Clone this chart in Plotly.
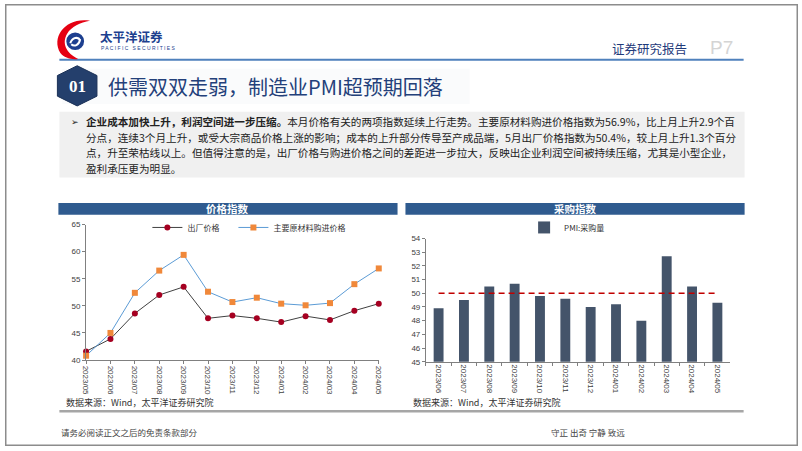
import plotly.graph_objects as go

W, H = 802, 451

# ---------------- data ----------------
price_months = ["2023/05", "2023/06", "2023/07", "2023/08", "2023/09", "2023/10", "2023/11",
                "2023/12", "2024/01", "2024/02", "2024/03", "2024/04", "2024/05"]
output_price = [41.6, 43.9, 48.6, 52.0, 53.5, 47.7, 48.2, 47.7, 47.0, 48.1, 47.4, 49.1, 50.4]
input_price = [40.8, 45.0, 52.4, 56.5, 59.4, 52.6, 50.7, 51.5, 50.4, 50.1, 50.5, 54.0, 56.9]

purchase_months = ["2023/06", "2023/07", "2023/08", "2023/09", "2023/10", "2023/11",
                   "2023/12", "2024/01", "2024/02", "2024/03", "2024/04", "2024/05"]
purchase_qty = [48.9, 49.5, 50.5, 50.7, 49.8, 49.6, 49.0, 49.2, 48.0, 52.7, 50.5, 49.3]
threshold_line = [50] * len(purchase_months)

left_yticks = [40, 45, 50, 55, 60, 65]
right_yticks = [45, 46, 47, 48, 49, 50, 51, 52, 53, 54]

# ---------------- helpers ----------------
def px(x):
    return x / W

def py(y):
    return 1 - y / H

def path(points, close=True):
    s = "M " + " L ".join(f"{px(x):.5f},{py(y):.5f}" for x, y in points)
    return s + (" Z" if close else "")

CJK = "Noto Sans CJK SC"
NUM = "Liberation Sans"
BAR_BLUE = "#2f5b8f"

fig = go.Figure()

# ---------------- left chart: price indices ----------------
fig.add_trace(go.Scatter(
    x=price_months, y=output_price, name="出厂价格", mode="lines+markers",
    line=dict(color="#404040", width=1),
    marker=dict(symbol="circle", size=6, color="#a50021"),
    cliponaxis=False, xaxis="x", yaxis="y", legend="legend"))
fig.add_trace(go.Scatter(
    x=price_months, y=input_price, name="主要原材料购进价格", mode="lines+markers",
    line=dict(color="#5b9bd5", width=1),
    marker=dict(symbol="square", size=6, color="#f0883a"),
    cliponaxis=False, xaxis="x", yaxis="y", legend="legend3"))

# ---------------- right chart: purchase index ----------------
fig.add_trace(go.Bar(
    x=purchase_months, y=purchase_qty, name="PMI:采购量",
    marker=dict(color="#44546a", line=dict(width=0)),
    xaxis="x2", yaxis="y2", legend="legend2"))
fig.add_trace(go.Scatter(
    x=purchase_months, y=threshold_line, mode="lines", showlegend=False,
    line=dict(color="#c00000", width=1.5, dash="6px,4px"),
    xaxis="x2", yaxis="y2", hoverinfo="skip"))

tickfont = dict(family=NUM, size=8, color="#404040")
axis_common = dict(showline=True, linecolor="#808080", linewidth=1, ticks="outside",
                   ticklen=3, tickcolor="#808080", showgrid=False, zeroline=False,
                   tickfont=tickfont)
legend_common = dict(orientation="h", xanchor="left", yanchor="middle",
                     font=dict(family=CJK, size=8, color="#333333"),
                     bgcolor="rgba(0,0,0,0)", itemwidth=30)

fig.update_layout(
    width=W, height=H, margin=dict(l=0, r=0, t=0, b=0), autosize=False,
    paper_bgcolor="white", plot_bgcolor="rgba(0,0,0,0)",
    bargap=0.61,
    xaxis=dict(domain=[px(82), px(378)], type="category", range=[0, 12],
               tickangle=90, anchor="y", **axis_common),
    yaxis=dict(domain=[py(363.3), py(225)], range=[40, 65], tickvals=left_yticks,
               anchor="x", **axis_common),
    xaxis2=dict(domain=[px(425.7), px(733.3)], type="category", range=[-0.5, 11.5],
                tickangle=90, tickson="boundaries", anchor="y2", **axis_common),
    yaxis2=dict(domain=[py(365), py(239.3)], range=[45, 54], tickvals=right_yticks,
                anchor="x2", **axis_common),
    legend=dict(x=px(144), y=py(228), **legend_common),
    legend3=dict(x=px(231), y=py(228), **legend_common),
    legend2=dict(x=px(525), y=py(228), **legend_common),
    showlegend=True,
)

shapes = []
ann = []

def text(x, y, s, size, color, family=CJK, xanchor="left"):
    ann.append(dict(xref="paper", yref="paper", x=px(x), y=py(y), text=s, showarrow=False,
                    xanchor=xanchor, yanchor="middle",
                    font=dict(family=family, size=size, color=color)))

# outer frame
shapes.append(dict(type="rect", xref="paper", yref="paper", x0=px(0.75), x1=px(801.25), y0=py(450.25), y1=py(0.75),
                   line=dict(color="#8c8c8c", width=1.5), fillcolor="rgba(0,0,0,0)", layer="above"))

# header line
shapes.append(dict(type="line", xref="paper", yref="paper", x0=px(55), x1=px(747), y0=py(57), y1=py(57),
                   line=dict(color="#4f81bd", width=2)))

# logo: red crescent + blue disc
crescent = ("M {0},{1} C {2},{3} {4},{5} {6},{7} C {8},{9} {10},{11} {12},{13} "
            "C {14},{15} {16},{17} {18},{19} C {20},{21} {22},{23} {0},{1} Z")
pts = [(86, 17), (62, 13), (46, 33), (56, 50), (60, 55), (67, 57), (74, 56),
       (62, 50), (57, 40), (63, 30), (67, 23), (76, 19)]
vals = []
for x, y in pts:
    vals += [f"{px(x):.5f}", f"{py(y):.5f}"]
shapes.append(dict(type="path", xref="paper", yref="paper", path=crescent.format(*vals),
                   fillcolor="#e50012", line=dict(width=0)))
shapes.append(dict(type="circle", xref="paper", yref="paper", x0=px(62), x1=px(80), y0=py(47), y1=py(29),
                   fillcolor="#1d3f8f", line=dict(width=0)))
swirl = [(66, 40), (68, 34), (74, 33), (76, 37)]
sw = "M {} C {} {} {}".format(*[f"{px(x):.5f},{py(y):.5f}" for x, y in swirl])
shapes.append(dict(type="path", xref="paper", yref="paper", path=sw,
                   line=dict(color="white", width=2)))
swirl2 = [(76, 36), (75, 42), (70, 44), (67, 41)]
sw2 = "M {} C {} {} {}".format(*[f"{px(x):.5f},{py(y):.5f}" for x, y in swirl2])
shapes.append(dict(type="path", xref="paper", yref="paper", path=sw2,
                   line=dict(color="white", width=2)))

text(94, 33, "<b>太平洋证券</b>", 12.5, "#1d3f8f")
text(95, 45, "P A C I F I C   S E C U R I T I E S", 5, "#1d3f8f", family=NUM)
text(612, 45, "证券研究报告", 12.5, "#1f3a7a")
text(711, 44, "P7", 19, "#d4d4d4", family=NUM)

# title banner
shapes.append(dict(type="rect", xref="paper", yref="paper", x0=px(58), x1=px(470), y0=py(102), y1=py(66),
                   fillcolor="rgba(238,241,245,0.3)", line=dict(width=0), layer="below"))
hexpts = [(73, 63), (93, 73), (93, 94), (73, 104), (53, 94), (53, 73)]
shapes.append(dict(type="path", xref="paper", yref="paper", path=path(hexpts),
                   fillcolor="#243f6c", line=dict(color="#1b3157", width=1)))
text(73, 84, "<b>01</b>", 17, "white", family="Liberation Serif", xanchor="center")
text(102, 84, "供需双双走弱，制造业PMI超预期回落", 20, "#23407a")

# paragraph box
shapes.append(dict(type="rect", xref="paper", yref="paper", x0=px(55), x1=px(748), y0=py(177), y1=py(110),
                   fillcolor="#f0f0f0", line=dict(width=0), layer="below"))
text(65, 120, "➢", 9, "#222222", family="DejaVu Sans")
para = [
    "<b>企业成本加快上升，利润空间进一步压缩。</b>本月价格有关的两项指数延续上行走势。主要原材料购进价格指数为56.9%，比上月上升2.9个百",
    "分点，连续3个月上升，或受大宗商品价格上涨的影响；成本的上升部分传导至产成品端，5月出厂价格指数为50.4%，较上月上升1.3个百分",
    "点，升至荣枯线以上。但值得注意的是，出厂价格与购进价格之间的差距进一步拉大，反映出企业利润空间被持续压缩，尤其是小型企业，",
    "盈利承压更为明显。",
]
for i, line in enumerate(para):
    text(80, 120 + 16 * i, line, 10.6, "#222222")

# chart title bars
for x0, x1, title in [(54, 397, "价格指数"), (405, 748, "采购指数")]:
    shapes.append(dict(type="rect", xref="paper", yref="paper", x0=px(x0), x1=px(x1),
                       y0=py(215), y1=py(203), fillcolor=BAR_BLUE, line=dict(width=0)))
    text((x0 + x1) / 2, 209, f"<b>{title}</b>", 10.5, "white", xanchor="center")

# sources
for x in (60, 411):
    text(x, 407, "数据来源：Wind，太平洋证券研究院", 9, "#333333")

# bottom separator
shapes.append(dict(type="line", xref="paper", yref="paper", x0=px(55), x1=px(747), y0=py(415.5), y1=py(415.5),
                   line=dict(color="#a6a6a6", width=2.5)))

# footer
text(55, 437, "请务必阅读正文之后的免责条款部分", 8.5, "#444444")
text(550, 437, "守正 出奇 宁静 致远", 8.5, "#444444")

fig.update_layout(shapes=shapes, annotations=ann)

fig.write_html("out.html", config={"displayModeBar": False},
               post_script="document.body.style.margin='0';")
